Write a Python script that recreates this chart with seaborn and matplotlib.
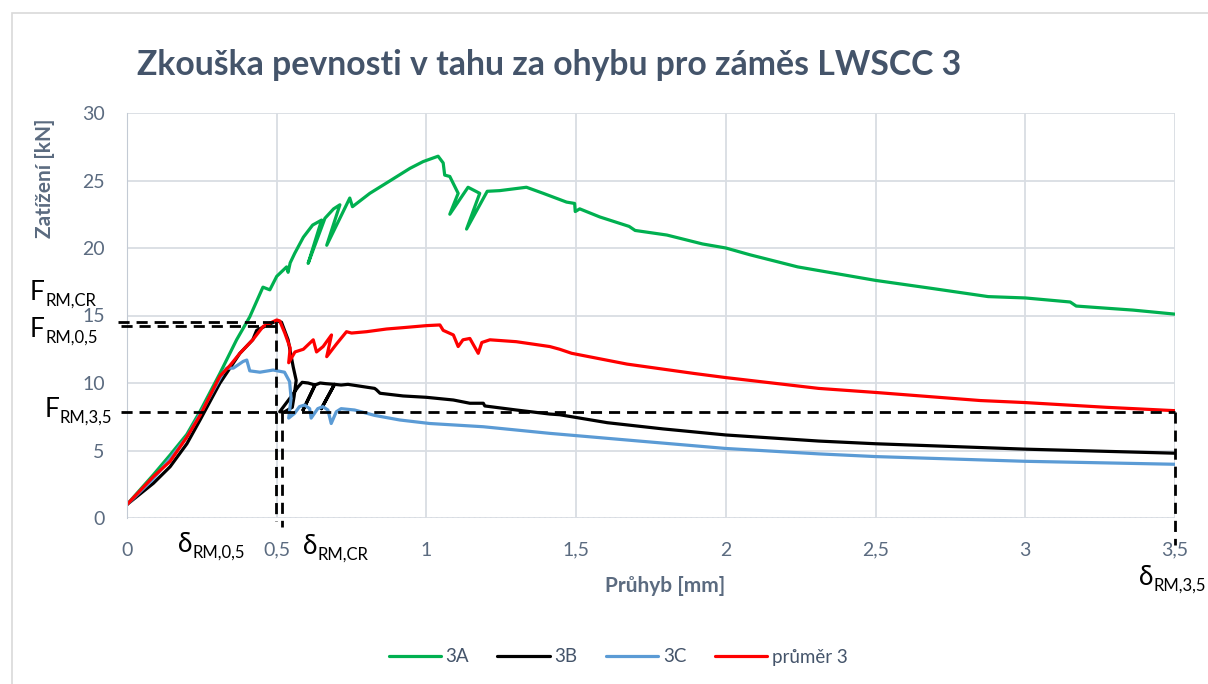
import pandas as pd
import matplotlib
matplotlib.use("Agg")
import matplotlib.pyplot as plt
import seaborn as sns
from matplotlib.patches import Rectangle

# hodnoty (průhyb mm, zatížení kN)
x_3a = [0, 0.088, 0.144, 0.2, 0.244, 0.31, 0.366, 0.41, 0.454, 0.477, 0.5, 0.533, 0.538, 0.545,
        0.56, 0.589, 0.62, 0.65, 0.605, 0.661, 0.69, 0.711, 0.667, 0.744, 0.753, 0.811, 0.88,
        0.945, 0.989, 1.039, 1.056, 1.061, 1.078, 1.106, 1.078, 1.139, 1.178, 1.134, 1.203,
        1.245, 1.334, 1.39, 1.468, 1.495, 1.497, 1.512, 1.579, 1.677, 1.697, 1.803, 1.922,
        2.0, 2.08, 2.24, 2.37, 2.5, 2.69, 2.876, 3.0, 3.15, 3.17, 3.36, 3.5]
y_3a = [1.0, 3.2, 4.67, 6.2, 7.9, 10.7, 13.2, 14.9, 17.1, 16.9, 17.9, 18.6, 18.2, 18.9,
        19.6, 20.8, 21.7, 22.07, 18.86, 22.2, 22.9, 23.2, 20.2, 23.7, 23.06, 24.05, 25.0,
        25.9, 26.4, 26.8, 26.3, 25.4, 25.3, 24.05, 22.5, 24.5, 24.05, 21.4, 24.2,
        24.25, 24.5, 24.05, 23.4, 23.3, 22.7, 22.9, 22.3, 21.6, 21.3, 20.96, 20.3,
        20.0, 19.5, 18.6, 18.1, 17.6, 17.0, 16.4, 16.3, 16.0, 15.7, 15.4, 15.1]

x_3b = [0, 0.088, 0.144, 0.2, 0.244, 0.31, 0.377, 0.42, 0.433, 0.47, 0.5, 0.516, 0.538, 0.555,
        0.565, 0.558, 0.552, 0.525, 0.51, 0.545, 0.571, 0.585, 0.605, 0.628, 0.588, 0.628,
        0.645, 0.665, 0.693, 0.649, 0.693, 0.715, 0.738, 0.827, 0.833, 0.845, 0.922, 1.0,
        1.09, 1.145, 1.19, 1.195, 1.3, 1.412, 1.445, 1.604, 1.79, 2.0, 2.31, 2.5, 3.0, 3.5]
y_3b = [1.0, 2.57, 3.8, 5.5, 7.26, 9.98, 12.2, 13.2, 13.9, 14.3, 14.6, 14.5, 13.2, 11.2,
        10.2, 9.0, 8.2, 7.85, 7.87, 8.9, 9.7, 10.05, 10.0, 9.85, 8.0, 9.85,
        10.0, 9.95, 9.9, 8.1, 9.9, 9.85, 9.9, 9.6, 9.5, 9.24, 9.04, 8.94,
        8.74, 8.5, 8.5, 8.3, 8.0, 7.7, 7.65, 7.06, 6.6, 6.15, 5.7, 5.5, 5.1, 4.8]

x_3c = [0, 0.088, 0.144, 0.2, 0.244, 0.322, 0.333, 0.355, 0.388, 0.4, 0.41, 0.444, 0.488,
        0.526, 0.543, 0.548, 0.54, 0.56, 0.576, 0.593, 0.61, 0.615, 0.637, 0.654, 0.671,
        0.682, 0.699, 0.715, 0.76, 0.827, 0.911, 1.011, 1.19, 1.412, 1.71, 2.0, 2.31, 2.5,
        3.0, 3.5]
y_3c = [1.0, 2.9, 4.4, 6.0, 7.7, 10.8, 11.1, 11.1, 11.6, 11.7, 10.9, 10.8, 10.96,
        10.8, 10.1, 8.87, 7.4, 7.76, 8.25, 8.37, 8.1, 7.4, 8.1, 8.25, 8.0,
        7.0, 7.87, 8.1, 8.0, 7.6, 7.26, 7.0, 6.76, 6.27, 5.7, 5.15, 4.75, 4.55,
        4.2, 3.98]

x_prum = [0, 0.088, 0.144, 0.2, 0.244, 0.31, 0.344, 0.377, 0.42, 0.455, 0.5, 0.51, 0.527,
          0.545, 0.54, 0.561, 0.589, 0.622, 0.633, 0.655, 0.683, 0.667, 0.7, 0.733, 0.75,
          0.8, 0.867, 0.922, 1.0, 1.045, 1.056, 1.09, 1.106, 1.122, 1.145, 1.173, 1.185,
          1.212, 1.3, 1.412, 1.445, 1.485, 1.67, 1.896, 2.0, 2.31, 2.5, 2.85, 3.0, 3.27, 3.5]
y_prum = [1.0, 3.06, 4.2, 6.0, 7.6, 10.5, 11.3, 12.2, 13.2, 14.2, 14.67, 14.6, 13.7,
          12.6, 11.5, 12.3, 12.5, 13.2, 12.3, 12.7, 13.56, 11.95, 12.9, 13.8, 13.7,
          13.8, 14.0, 14.1, 14.25, 14.3, 13.9, 13.56, 12.7, 13.2, 13.3, 12.2, 13.0,
          13.2, 13.06, 12.7, 12.5, 12.2, 11.4, 10.7, 10.4, 9.6, 9.3, 8.7, 8.55, 8.2, 7.95]

serie = ['3A', '3B', '3C', 'průměr 3']
barvy = ['#00B050', '#000000', '#5B9BD5', '#FF0000']

F_cr = 14.54
F_05 = 14.2
F_35 = 7.83
d_05 = 0.497
d_cr = 0.516
d_35 = 3.5

x_ticks = [0, 0.5, 1, 1.5, 2, 2.5, 3, 3.5]
x_tick_labels = ['0', '0,5', '1', '1,5', '2', '2,5', '3', '3,5']
y_ticks = [0, 5, 10, 15, 20, 25, 30]

tabulky = []
for nazev, xs, ys in zip(serie, [x_3a, x_3b, x_3c, x_prum], [y_3a, y_3b, y_3c, y_prum]):
    tabulky.append(pd.DataFrame({'serie': nazev, 'x': xs, 'y': ys}))
data = pd.concat(tabulky, ignore_index=True)

sns.set_style('white')
plt.rcParams['font.family'] = ['Lato', 'DejaVu Sans']

W, H = 1208, 684
fig = plt.figure(figsize=(W / 100, H / 100), dpi=100)
ax = fig.add_axes([127 / W, 1 - 518 / H, (1175 - 127) / W, (518 - 113) / H])

# rámeček celého grafu
fig.patches.append(Rectangle((12 / W, -0.01), 1.0, 1 - 13 / H + 0.01, transform=fig.transFigure,
                             fill=False, edgecolor='#D9D9D9', linewidth=1.2))

sns.lineplot(data=data, x='x', y='y', hue='serie', hue_order=serie, palette=barvy,
             sort=False, estimator=None, linewidth=2.3, ax=ax, legend=False)

ax.set_xlim(0, 3.5)
ax.set_ylim(0, 30)
ax.set_xticks(x_ticks)
ax.set_xticklabels(x_tick_labels)
ax.set_yticks(y_ticks)
ax.grid(True, color='#D9DDE3', linewidth=1.3)
ax.set_axisbelow(True)
for s in ['top', 'right', 'bottom']:
    ax.spines[s].set_visible(False)
ax.spines['left'].set_color('#C3CAD4')
ax.axhline(0, color='#C9CED6', linewidth=1.3, linestyle=(0, (1, 2)), zorder=0.5)
ax.tick_params(axis='both', length=0, labelsize=14, colors='#5B6B80')
ax.tick_params(axis='x', pad=17)
ax.tick_params(axis='y', pad=16)
ax.set_xlabel('')
ax.set_ylabel('')

# čárkované pomocné čáry
carka = dict(color='black', linewidth=2, linestyle=(0, (4, 2.5)), clip_on=False, zorder=5)
ax.plot([-0.03, d_05], [F_cr, F_cr], **carka)
ax.plot([-0.02, d_05], [F_05, F_05], **carka)
ax.plot([-0.02, d_35], [F_35, F_35], **carka)
ax.plot([d_05, d_05], [F_cr, -0.2], **carka)
ax.plot([d_cr, d_cr], [F_35, -0.7], **carka)
ax.plot([d_35, d_35], [F_35, -2.0], **carka)


def px(x, y):
    return x / W, 1 - y / H


fig.text(*px(137, 65), 'Zkouška pevnosti v tahu za ohybu pro záměs LWSCC 3',
         fontsize=24.3, fontweight='bold', color='#44546A', va='center', ha='left')
fig.text(*px(45, 178), 'Zatížení [kN]', rotation=90, fontsize=15, fontweight='bold',
         color='#5B6B80', ha='center', va='center')
fig.text(*px(665, 586), 'Průhyb [mm]', fontsize=15, fontweight='bold',
         color='#5B6B80', ha='center', va='center')

# popisky s dolním indexem: (x vlevo / vpravo, účaří, znak, index, zarovnání)
popisky = [
    (30, 300, 'F', 'RM,CR', 'left'),
    (30, 337, 'F', 'RM,0,5', 'left'),
    (112, 417, 'F', 'RM,3,5', 'right'),
    (178, 552, 'δ', 'RM,0,5', 'left'),
    (303, 554, 'δ', 'RM,CR', 'left'),
    (1139, 585, 'δ', 'RM,3,5', 'left'),
]
renderer = fig.canvas.get_renderer()
for x, y, znak, index, ha in popisky:
    t1 = fig.text(*px(x, y), znak, fontsize=19, color='black', ha='left', va='baseline')
    t2 = fig.text(0, 0, index, fontsize=12, color='black', ha='left', va='baseline')
    w1 = t1.get_window_extent(renderer).width
    w2 = t2.get_window_extent(renderer).width
    x0 = x if ha == 'left' else x - w1 - w2
    t1.set_position(px(x0, y))
    t2.set_position(px(x0 + w1 + 0.5, y + 6))

handles = [plt.Line2D([], [], color=c, linewidth=2.3) for c in barvy]
leg = fig.legend(handles, serie, loc='center', bbox_to_anchor=px(618, 657), ncol=4,
                 frameon=False, fontsize=13.5, handlelength=2.8, columnspacing=1.5,
                 handletextpad=0.25)
for t in leg.get_texts():
    t.set_color('#44546A')

fig.savefig('out.png', dpi=100)
